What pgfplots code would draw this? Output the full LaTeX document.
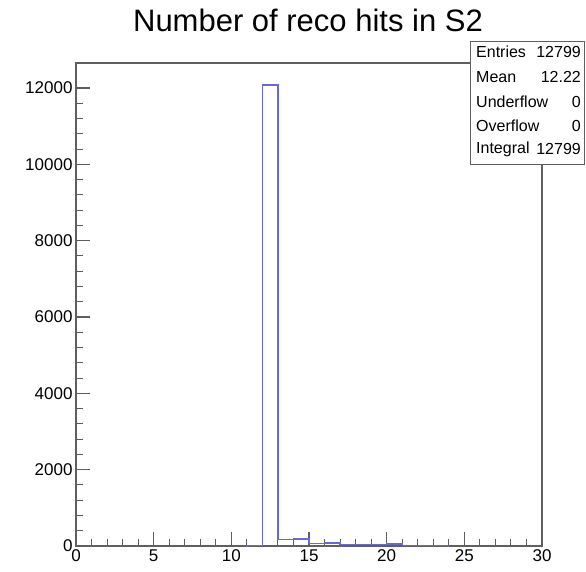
\documentclass[border=0pt]{standalone}
\usepackage{fontspec}
\setmainfont{Liberation Sans}
\usepackage{pgfplots}
\pgfplotsset{compat=1.18}
\definecolor{histblue}{RGB}{105,105,210}
\definecolor{framegray}{RGB}{95,95,95}
\begin{document}
\begin{tikzpicture}
\useasboundingbox (0pt,0pt) rectangle (586pt,571pt);
\begin{axis}[
  at={(76pt,25pt)}, anchor=south west,
  scale only axis, width=466pt, height=483pt,
  xmin=0, xmax=30, ymin=0, ymax=12655,
  xtick={0,5,...,30}, minor x tick num=4,
  ytick={0,2000,...,12000}, minor y tick num=4,
  tick align=inside, xtick pos=bottom, ytick pos=left,
  major tick length=14pt, minor tick length=7pt,
  axis line style={framegray, line width=1.1pt},
  every tick/.style={framegray, line width=1.1pt},
  /pgf/number format/1000 sep={},
  /pgf/number format/assume math mode=true,
  ticklabel style={font=\fontsize{17}{17}\selectfont},
  scaled y ticks=false,
]
% bin contents, bins [i,i+1)
\addplot[const plot mark left, histblue, line width=1.3pt] coordinates {
  (11,0) (11,5) (12,12080) (13,165) (14,183) (15,62) (16,80)
  (17,32) (18,42) (19,32) (20,52) (21,22) (22,16) (23,12) (24,12) (24,0)
};
\end{axis}
\node[font=\fontsize{31}{31}\selectfont] at (308pt,551pt) {Number of reco hits in S2};
% stats box
\draw[framegray, line width=0.9pt, fill=white] (470pt,407pt) rectangle (584pt,530pt);
\begin{scope}[every node/.style={font=\fontsize{16}{16}\selectfont, inner sep=0pt}]
\node[anchor=west] at (476pt,519pt) {Entries};
\node[anchor=east] at (581pt,519pt) {12799};
\node[anchor=west] at (476pt,494pt) {Mean};
\node[anchor=east] at (581pt,494pt) {12.22};
\node[anchor=west] at (476pt,469pt) {Underflow};
\node[anchor=east] at (581pt,469pt) {0};
\node[anchor=west] at (476pt,445pt) {Overflow};
\node[anchor=east] at (581pt,445pt) {0};
\node[anchor=west] at (476pt,422pt) {Integral};
\node[anchor=east] at (581pt,422pt) {12799};
\end{scope}
\end{tikzpicture}
\end{document}
